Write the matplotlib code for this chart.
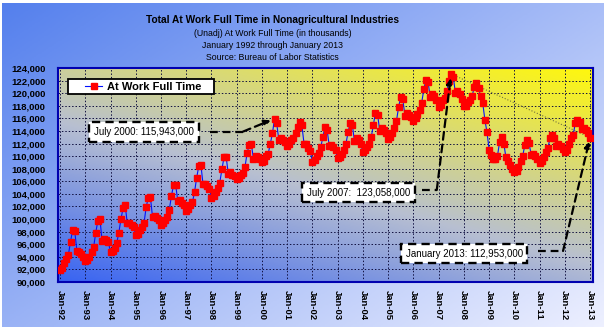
import numpy as np
import pandas as pd
import matplotlib
matplotlib.use('Agg')
import matplotlib.pyplot as plt
import matplotlib.dates as mdates
from matplotlib.legend_handler import HandlerLine2D
from matplotlib.colors import LinearSegmentedColormap
from matplotlib.ticker import FuncFormatter

plt.rcParams['font.family'] = ['Liberation Sans', 'DejaVu Sans']

# At Work Full Time, thousands, monthly Jan 1992 .. Jan 2013
full_time = [
    91900, 92200, 93000, 93600, 94300, 96400, 98200, 98100, 95000, 94700, 94400, 94000,
    93300, 93500, 94000, 94800, 95500, 97800, 99700, 100000, 96500, 96800, 96600, 96300,
    94800, 95000, 95400, 96200, 97800, 100000, 101700, 102200, 99300, 99400, 99100, 98800,
    97400, 97600, 98200, 98800, 99400, 101900, 103400, 103500, 100300, 100500, 100200, 99800,
    99000, 99300, 99900, 100400, 101500, 103700, 105400, 105400, 102800, 103000, 102600, 102200,
    101300, 101600, 102300, 102700, 104300, 106600, 108400, 108600, 105500, 105600, 105200, 104800,
    103400, 103600, 104300, 104900, 105800, 107900, 109800, 109900, 107200, 107400, 107000, 106800,
    106400, 106600, 107000, 107300, 108300, 110500, 111800, 111900, 109500, 110000, 109800, 109600,
    109000, 109300, 110000, 110400, 112000, 113600, 115943, 115300, 112600, 112900, 112600, 112200,
    111600, 111900, 112500, 112900, 113600, 114600, 115500, 114900, 112000, 111900, 111300, 110800,
    109100, 109400, 110000, 110500, 111400, 113000, 114600, 114200, 111600, 111800, 111400, 110900,
    109700, 109900, 110400, 110900, 112000, 113800, 115300, 115000, 112400, 112800, 112500, 112000,
    110600, 110900, 111500, 112000, 113000, 115000, 116900, 116600, 114000, 114400, 114200, 113600,
    112700, 113000, 113600, 114400, 115600, 117800, 119400, 119000, 116400, 116900, 116600, 116200,
    115600, 116000, 116700, 117400, 118500, 120600, 122100, 121800, 119400, 119800, 119500, 118900,
    117800, 118200, 118900, 119300, 120300, 122000, 123058, 122600, 120000, 120400, 119900, 119000,
    117900, 118000, 118600, 118900, 119600, 121000, 121600, 120800, 119500, 118400, 115700, 113800,
    111000, 110100, 109600, 109500, 110000, 112200, 113000, 112000, 109800, 109200, 108600, 108000,
    107400, 107600, 108300, 109200, 110000, 111700, 112600, 112100, 110200, 110400, 110000, 109600,
    108900, 109200, 109800, 110600, 111300, 112800, 113400, 112800, 111600, 111900, 111600, 111100,
    110600, 111000, 111900, 112900, 113400, 115200, 115700, 115400, 114300, 114500, 114100, 113700,
    112953,
]
months = pd.date_range('1992-01-01', periods=len(full_time), freq='MS')
series = pd.Series(full_time, index=months)

callout_months = ['2000-07-01', '2007-07-01', '2013-01-01']
callout_labels = ['July 2000: 115,943,000', 'July 2007:  123,058,000', 'January 2013: 112,953,000']

title = 'Total At Work Full Time in Nonagricultural Industries'
subtitles = ['(Unadj) At Work Full Time (in thousands)',
             'January 1992 through January 2013',
             'Source: Bureau of Labor Statistics']

W, H = 610, 330
fig = plt.figure(figsize=(W / 100, H / 100), dpi=100, facecolor='white')

# outer background gradient
bg = fig.add_axes([0.004, 0.008, 0.986, 0.984])
gx, gy = np.meshgrid(np.linspace(0, 1, 300), np.linspace(0, 1, 200))
t_out = 0.55 * gx + 0.45 * gy
outer_cmap = LinearSegmentedColormap.from_list('outer', [(0.33, 0.50, 0.93), (0.93, 0.94, 1.0)])
bg.imshow(t_out, cmap=outer_cmap, extent=[0, 1, 0, 1], aspect='auto', origin='upper', vmin=0, vmax=1)
bg.axis('off')

# plot area
pos = [58 / W, 48 / H, 535 / W, 214 / H]
gax = fig.add_axes(pos)
t_in = 0.4 * gx + 0.6 * gy
inner_cmap = LinearSegmentedColormap.from_list(
    'inner', [(0.0, (0.22, 0.39, 0.95)), (0.45, (0.72, 0.75, 0.82)), (1.0, (1.0, 0.97, 0.05))])
gax.imshow(t_in, cmap=inner_cmap, extent=[0, 1, 0, 1], aspect='auto', origin='lower', vmin=0, vmax=1)
gax.axis('off')

ax = fig.add_axes(pos)
ax.set_facecolor('none')

ax.plot(months, full_time, color='#0010ff', lw=0.8, marker='s', ms=4.6,
        mfc='#ff0000', mec='#ff0000', label='At Work Full Time   ', zorder=4)

# thin dotted line between July 2007 peak and January 2013
p07, p13 = pd.Timestamp(callout_months[1]), pd.Timestamp(callout_months[2])
ax.plot([p07, p13], [series[p07], series[p13]], ls=':', color='#707040', lw=0.8, zorder=3)

ax.set_xlim(pd.Timestamp('1991-12-03'), pd.Timestamp('2013-02-12'))
ax.set_ylim(90000, 124000)
ax.set_yticks(range(90000, 124001, 2000))
ax.yaxis.set_major_formatter(FuncFormatter(lambda v, p: f'{v:,.0f}'))
ax.set_xticks(pd.date_range('1992-01-01', '2013-01-01', freq='YS'))
ax.xaxis.set_major_formatter(mdates.DateFormatter('%b-%y'))
ax.tick_params(axis='y', length=0, pad=9, labelsize=6.8)
ax.tick_params(axis='x', length=0, pad=6, labelsize=6.8, labelrotation=-90)
for lab in ax.get_xticklabels() + ax.get_yticklabels():
    lab.set_fontweight('bold')
ax.grid(True, ls=(0, (1.5, 2)), color='#101040', lw=0.7)
for s in ax.spines.values():
    s.set_color('#0000b0')
    s.set_linewidth(1.5)

# callouts: box text, horizontal dash, dashed arrow to point
dash = (0, (3.5, 2.2))
box_pos = [(0.161, 0.701), (0.561, 0.418), (0.759, 0.133)]
dash_seg = [(0.284, 0.346, 0.703), (0.680, 0.708, 0.43), (0.897, 0.944, 0.145)]
for lab, m, (bx, by), (x0, x1, yy) in zip(callout_labels, callout_months, box_pos, dash_seg):
    ax.text(bx, by, lab, transform=ax.transAxes, ha='center', va='center', fontsize=7, zorder=6,
            bbox=dict(boxstyle='square,pad=0.5', fc='white', ec='black', lw=1.7, ls=dash))
    ax.plot([x0, x1], [yy, yy], transform=ax.transAxes, color='black', lw=1.6, ls=dash, zorder=6)
    d = pd.Timestamp(m)
    ax.annotate('', xy=(d, series[d]), xycoords='data', xytext=(x1, yy), textcoords='axes fraction',
                arrowprops=dict(arrowstyle='-|>', color='black', lw=1.6, ls=dash,
                                shrinkA=0, shrinkB=3, mutation_scale=9), zorder=6)

leg = ax.legend(loc='upper left', bbox_to_anchor=(0.0187, 0.949), borderaxespad=0,
                fancybox=False, edgecolor='black', framealpha=1, borderpad=0.25,
                handlelength=2.81, handletextpad=0.45, prop={'weight': 'bold', 'size': 8},
                handler_map={matplotlib.lines.Line2D: HandlerLine2D(xpad=1.28)})
leg.get_frame().set_linewidth(1.3)
leg.set_zorder(7)

fig.text(0.5 * (150 + 396) / W, 1 - 20 / H, title, ha='center', va='center',
         fontsize=7.3, fontweight='bold')
for i, s in enumerate(subtitles):
    fig.text(0.5 * (195 + 350) / W, 1 - (34 + 12 * i) / H, s, ha='center', va='center', fontsize=6.3)

fig.savefig('out.png', dpi=100, facecolor=fig.get_facecolor())
